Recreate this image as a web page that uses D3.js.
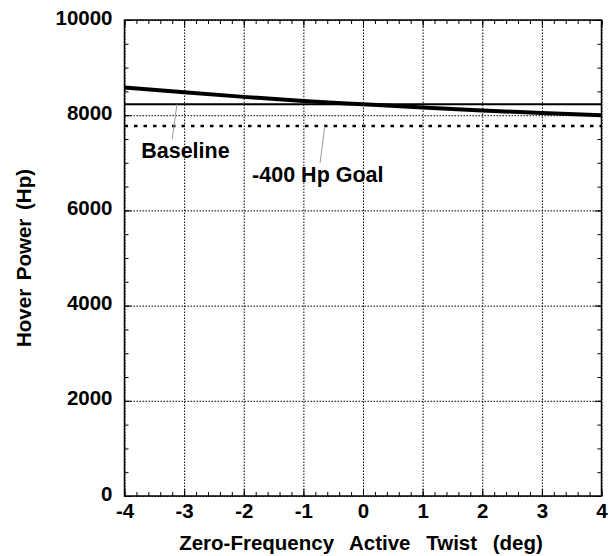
<!DOCTYPE html>
<html>
<head>
<meta charset="utf-8">
<script src="https://cdn.jsdelivr.net/npm/d3@7"></script>
<style>
  body { margin: 0; background: #fff; }
  svg text { font-family: "Liberation Sans", Arial, sans-serif; font-weight: bold; fill: #000; }
</style>
</head>
<body>
<svg id="chart" width="611" height="556"></svg>
<script>
// chart data
const twist = [-4, -3, -2, -1, 0, 1, 2, 3, 4];
const hoverPower = [8580, 8480, 8385, 8300, 8229, 8160, 8100, 8045, 8000];
const baselinePower = 8229;
const goalPower = 7775;
const xTicks = [-4, -3, -2, -1, 0, 1, 2, 3, 4];
const yTicks = [0, 2000, 4000, 6000, 8000, 10000];

// annotations: [label, textX, textY, leaderFrom[x,y], leaderTo[x,y]]
const notes = [
  ["Baseline", -3.72, 7100, [-3.12, baselinePower], [-3.2, 7500]],
  ["-400 Hp Goal", -1.86, 6600, [-0.64, goalPower], [-0.72, 7000]]
];

const svg = d3.select("#chart");

const x = d3.scaleLinear().domain([-4, 4]).range([124.5, 601.5]);
const y = d3.scaleLinear().domain([0, 10000]).range([496, 20]);
const w = x.range()[1] - x.range()[0];
const h = y.range()[0] - y.range()[1];
const plain = d => String(d);

// dotted grid
svg.append("g")
    .attr("transform", `translate(0,${y(0)})`)
    .call(d3.axisBottom(x).tickValues(xTicks).tickSize(-h).tickFormat(""))
    .call(g => g.select(".domain").remove())
    .selectAll("line")
    .attr("stroke", "#000").attr("stroke-width", 1).attr("stroke-dasharray", "1.5,1.5");

svg.append("g")
    .attr("transform", `translate(${x(-4)},0)`)
    .call(d3.axisLeft(y).tickValues(yTicks).tickSize(-w).tickFormat(""))
    .call(g => g.select(".domain").remove())
    .selectAll("line")
    .attr("stroke", "#000").attr("stroke-width", 1).attr("stroke-dasharray", "1.5,1.5");

// inward ticks on all four sides
const xMinor = d3.range(-4, 4.001, 0.2);
const yMinor = d3.range(0, 10001, 500);
function tickSide(axis, scale, vals, size, pos) {
  svg.append("g")
      .attr("transform", pos)
      .call(axis(scale).tickValues(vals).tickSize(size).tickFormat(""))
      .call(g => g.select(".domain").remove())
      .selectAll("line").attr("stroke", "#000").attr("stroke-width", 1);
}
tickSide(d3.axisBottom, x, xMinor, -4, `translate(0,${y(0)})`);
tickSide(d3.axisTop, x, xMinor, -4, `translate(0,${y(10000)})`);
tickSide(d3.axisLeft, y, yMinor, -4, `translate(${x(-4)},0)`);
tickSide(d3.axisRight, y, yMinor, -4, `translate(${x(4)},0)`);
tickSide(d3.axisBottom, x, xTicks, -7, `translate(0,${y(0)})`);
tickSide(d3.axisTop, x, xTicks, -7, `translate(0,${y(10000)})`);
tickSide(d3.axisLeft, y, yTicks, -7, `translate(${x(-4)},0)`);
tickSide(d3.axisRight, y, yTicks, -7, `translate(${x(4)},0)`);

// tick labels
svg.append("g")
    .attr("transform", `translate(0,${y(0)})`)
    .call(d3.axisBottom(x).tickValues(xTicks).tickSize(0).tickPadding(7.5).tickFormat(plain))
    .call(g => g.select(".domain").remove())
    .selectAll("text")
    .style("font-size", "20.5px");

svg.append("g")
    .attr("transform", `translate(${x(-4)},0)`)
    .call(d3.axisLeft(y).tickValues(yTicks).tickSize(0).tickPadding(12).tickFormat(plain))
    .call(g => g.select(".domain").remove())
    .selectAll("text")
    .attr("dy", "0.2em")
    .style("font-size", "20.5px");

// clip for the curves
svg.append("defs").append("clipPath").attr("id", "clip")
  .append("rect").attr("x", x(-4)).attr("y", y(10000)).attr("width", w).attr("height", h);

const plot = svg.append("g").attr("clip-path", "url(#clip)");

// goal line (dotted)
plot.append("line")
    .attr("x1", x(-4)).attr("x2", x(4))
    .attr("y1", y(goalPower)).attr("y2", y(goalPower))
    .attr("stroke", "#000").attr("stroke-width", 2.5).attr("stroke-dasharray", "3.5,6");

// baseline
plot.append("line")
    .attr("x1", x(-4)).attr("x2", x(4))
    .attr("y1", y(baselinePower)).attr("y2", y(baselinePower))
    .attr("stroke", "#000").attr("stroke-width", 2);

// hover power vs twist
const line = d3.line().x((d, i) => x(twist[i])).y(d => y(d)).curve(d3.curveMonotoneX);
plot.append("path")
    .datum(hoverPower)
    .attr("d", line)
    .attr("fill", "none")
    .attr("stroke", "#000")
    .attr("stroke-width", 4);

// annotations
notes.forEach(([label, tx, ty, from, to]) => {
  svg.append("line")
      .attr("x1", x(from[0])).attr("y1", y(from[1]))
      .attr("x2", x(to[0])).attr("y2", y(to[1]))
      .attr("stroke", "#999").attr("stroke-width", 1);
  svg.append("text")
      .attr("x", x(tx)).attr("y", y(ty))
      .style("font-size", "21.5px")
      .text(label);
});

// frame
svg.append("rect")
    .attr("x", x(-4)).attr("y", y(10000))
    .attr("width", w).attr("height", h)
    .attr("fill", "none").attr("stroke", "#000").attr("stroke-width", 1.5);

// axis titles
svg.append("text")
    .attr("x", (x(-4) + x(4)) / 2 - 2).attr("y", 550)
    .attr("text-anchor", "middle")
    .style("font-size", "20.5px")
    .style("word-spacing", "10px")
    .text("Zero-Frequency Active Twist (deg)");

svg.append("text")
    .attr("transform", `translate(31,${(y(0) + y(10000)) / 2})rotate(-90)`)
    .attr("text-anchor", "middle")
    .style("font-size", "20.5px")
    .style("word-spacing", "3px")
    .text("Hover Power (Hp)");
</script>
</body>
</html>
